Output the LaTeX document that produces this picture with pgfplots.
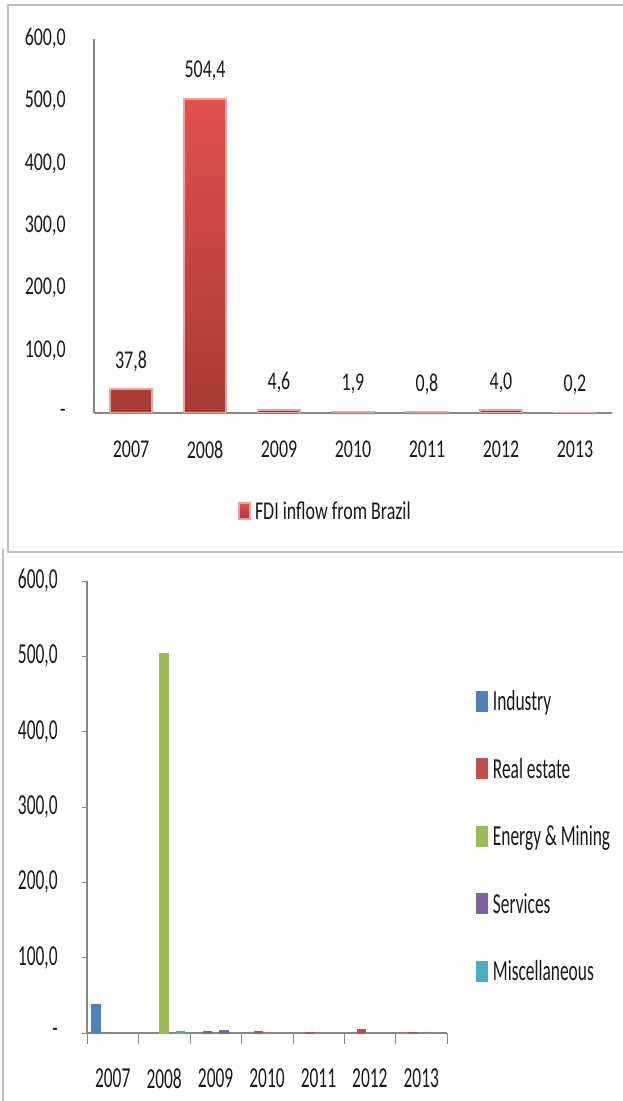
\documentclass[border=0pt]{standalone}
\usepackage{fontspec}
\setmainfont{Carlito}
\newfontfamily\topfont{Carlito}[FakeStretch=0.70]
\newfontfamily\botfont{Carlito}[FakeStretch=0.60]
\usepackage{pgfplots}
\pgfplotsset{compat=1.18}

\definecolor{axgray}{HTML}{868686}
\definecolor{framegray}{HTML}{BFBFBF}
\definecolor{barTop}{HTML}{E2514E}
\definecolor{barBot}{HTML}{A83A36}
\definecolor{barEdge}{HTML}{E8A4A2}
\definecolor{cInd}{HTML}{4F81BD}
\definecolor{cRe}{HTML}{C0504D}
\definecolor{cEn}{HTML}{9BBB59}
\definecolor{cSe}{HTML}{8064A2}
\definecolor{cMi}{HTML}{4BACC6}

\newcommand\tfnt{\topfont\fontsize{12.8pt}{15pt}\selectfont}
\newcommand\bfnt{\botfont\fontsize{14.5pt}{17pt}\selectfont}

\begin{document}
\begin{tikzpicture}
\useasboundingbox (0,0) rectangle (311pt,550.5pt);
% frames of the two chart areas
\draw[framegray, line width=1pt] (312pt,548pt) -- (4pt,548pt) -- (4pt,274.5pt) -- (312pt,274.5pt);
\draw[framegray, line width=1pt] (1.5pt,276pt) -- (1.5pt,0pt);

% ---- top: total FDI inflow
\begin{axis}[
  at={(47pt,344pt)}, anchor=south west,
  scale only axis, width=259pt, height=187pt,
  xmin=-0.5, xmax=6.5, ymin=0, ymax=600,
  axis lines=left, axis line style={draw=axgray, line width=0.6pt, -},
  ybar, bar width=21pt,
  xtick={0,...,6}, xticklabels={2007,2008,2009,2010,2011,2012,2013},
  ytick={0,100,...,600},
  yticklabels={{-\hspace{4.7pt}},{100,0},{200,0},{300,0},{400,0},{500,0},{600,0}},
  major tick length=0pt,
  tick label style={font=\tfnt, text=black!90},
  yticklabel style={anchor=east, inner sep=0pt, xshift=-14pt},
  xticklabel style={anchor=north, inner sep=0pt, yshift=-14pt},
  /pgf/number format/assume math mode=true,
  nodes near coords={\pgfmathprintnumber[fixed,fixed zerofill,precision=1,use comma]{\pgfplotspointmeta}},
  every node near coord/.append style={font=\tfnt, text=black!90, anchor=center, yshift=14pt},
  legend style={at={(0.278,-0.262)}, anchor=west, draw=none, fill=none,
    inner sep=0pt, outer sep=0pt,
    nodes={inner sep=0pt, text height=8.2pt, text depth=0pt, font=\tfnt, text=black!90}},
]
\addplot[top color=barTop, bottom color=barBot, draw=barEdge, line width=1pt,
  legend image code/.code={\fill[top color=barTop, bottom color=barBot] (0pt,-4pt) rectangle (5.5pt,4pt); \path (7.5pt,0pt);}]
  coordinates {(0,37.8) (1,504.4) (2,4.6) (3,1.9) (4,0.8) (5,4.0) (6,0.2)};
\addlegendentry{FDI inflow from Brazil}
\end{axis}

% ---- bottom: by sector
\begin{axis}[
  at={(43.5pt,34pt)}, anchor=south west,
  scale only axis, width=180pt, height=226pt,
  xmin=-0.5, xmax=6.5, ymin=0, ymax=600,
  axis lines=left, axis line style={draw=axgray, line width=0.6pt, -},
  ybar=0pt, bar width=4.15pt,
  xtick={0,...,6}, xticklabels={2007,2008,2009,2010,2011,2012,2013},
  xtick style={draw=none},
  minor xtick={-0.5,0.5,...,6.5},
  minor tick length=5.5pt, major tick length=2.5pt, tick align=outside,
  ytick style={draw=axgray}, minor x tick style={draw=axgray},
  ytick={0,100,...,600},
  yticklabels={{-\hspace{4.2pt}},{100,0},{200,0},{300,0},{400,0},{500,0},{600,0}},
  tick label style={font=\bfnt, text=black!90},
  yticklabel style={anchor=east, inner sep=0pt, xshift=-12pt},
  xticklabel style={anchor=north, inner sep=0pt, yshift=-15pt},
  legend style={at={(1.0806,0.7573)}, anchor=north west, draw=none, fill=none,
    inner sep=0pt, outer sep=0pt, row sep=23.15pt,
    nodes={inner sep=0pt, text height=9.4pt, text depth=0pt, font=\bfnt, text=black!90}},
  legend cell align=left,
]
\addplot[fill=cInd, draw=cInd, line width=0.6pt,
  legend image code/.code={\fill[cInd] (0pt,-5pt) rectangle (5.5pt,5pt); \path (7.85pt,0pt);}]
  coordinates {(0,37.8)};
\addlegendentry{Industry}
\addplot[fill=cRe, draw=cRe, line width=0.6pt,
  legend image code/.code={\fill[cRe] (0pt,-5pt) rectangle (5.5pt,5pt); \path (7.85pt,0pt);}]
  coordinates {(2,1.5) (3,1.9) (4,0.8) (5,4.0) (6,0.2)};
\addlegendentry{Real estate}
\addplot[fill=cEn, draw=cEn, line width=0.6pt,
  legend image code/.code={\fill[cEn] (0pt,-5pt) rectangle (5.5pt,5pt); \path (7.85pt,0pt);}]
  coordinates {(1,503.0)};
\addlegendentry{Energy \& Mining}
\addplot[fill=cSe, draw=cSe, line width=0.6pt,
  legend image code/.code={\fill[cSe] (0pt,-5pt) rectangle (5.5pt,5pt); \path (7.85pt,0pt);}]
  coordinates {(2,3.1)};
\addlegendentry{Services}
\addplot[fill=cMi, draw=cMi, line width=0.6pt,
  legend image code/.code={\fill[cMi] (0pt,-5pt) rectangle (5.5pt,5pt); \path (7.85pt,0pt);}]
  coordinates {(1,1.4)};
\addlegendentry{Miscellaneous}
\end{axis}
\end{tikzpicture}
\end{document}
